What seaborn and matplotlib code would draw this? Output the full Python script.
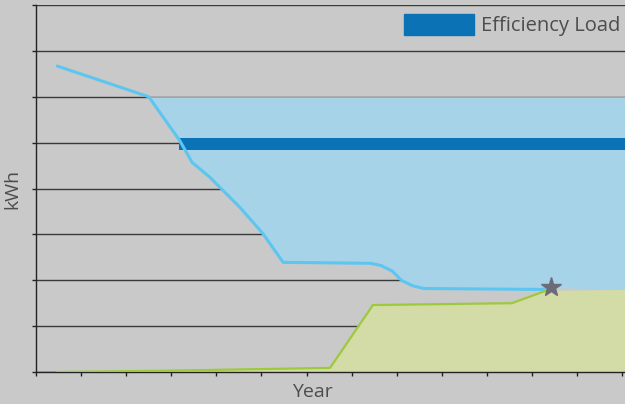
import numpy as np
import matplotlib
matplotlib.use("Agg")
import matplotlib.pyplot as plt
import matplotlib.patches as mpatches
import seaborn as sns

# -------------------
# Dados
# -------------------
anos_carga = [0.47, 2.5, 3.19, 3.46, 3.86, 4.52, 5.03, 5.48, 7.41, 7.65, 7.9, 8.1, 8.35, 8.6, 11.2, 11.4]
carga = [6.67, 6.0, 5.04, 4.57, 4.24, 3.59, 3.02, 2.39, 2.37, 2.32, 2.2, 2.0, 1.88, 1.82, 1.8, 1.84]

anos_geracao = [0.47, 3.0, 6.52, 7.47, 10.55, 11.33, 13.1]
geracao = [0.0, 0.03, 0.09, 1.46, 1.5, 1.78, 1.8]

topo_carga = 6.0
faixa_eficiencia = (4.83, 5.09)
inicio_faixa = 3.17
estrela = (11.42, 1.85)

# -------------------
# Cores
# -------------------
cor_fundo = "#c9c9c9"
cor_azul_claro = "#a6d3e8"
cor_ciano = "#5cc6f0"
cor_azul = "#0b72b6"
cor_verde_claro = "#d3dba6"
cor_verde = "#9dc93c"
cor_texto = "#4d4d4d"

sns.set_theme(style="white")
plt.rcParams["font.family"] = ["Open Sans", "DejaVu Sans"]

fig = plt.figure(figsize=(6.25, 4.04), dpi=100, facecolor=cor_fundo)
ax = fig.add_axes([36 / 625, 32 / 404, 589 / 625, 367 / 404])
ax.set_facecolor(cor_fundo)

x_max = 13.06
ax.set_xlim(0, x_max)
ax.set_ylim(0, 8.0)

# -------------------
# Áreas
# -------------------
fill_x = anos_carga[1:] + [x_max]
fill_baixo = carga[1:] + [geracao[-1]]
ax.fill_between(fill_x, topo_carga, fill_baixo, color=cor_azul_claro, lw=0, zorder=2)

ax.fill_between(anos_geracao, 0, geracao, color=cor_verde_claro, lw=0, zorder=2)

ax.fill_between([inicio_faixa, x_max], faixa_eficiencia[0], faixa_eficiencia[1],
                color=cor_azul, lw=0, zorder=3)

# -------------------
# Linhas
# -------------------
sns.lineplot(x=anos_carga, y=carga, color=cor_ciano, lw=2.2, ax=ax, zorder=4, sort=False)
sns.lineplot(x=anos_geracao[:-1], y=geracao[:-1], color=cor_verde, lw=1.6, ax=ax, zorder=4, sort=False)

ax.plot(*estrela, marker="*", ms=15, color="#6c6c78", zorder=5)

# -------------------
# Eixos e grade
# -------------------
ax.set_yticks(range(0, 9))
ax.set_xticks(range(0, 14))
ax.set_yticklabels([])
ax.set_xticklabels([])
ax.yaxis.grid(True, color="#3a3a3a", lw=1.0)
ax.set_axisbelow(True)
ax.tick_params(axis="both", direction="out", length=3, width=1, color="#222222", left=True, bottom=True)

for lado in ["top", "right"]:
    ax.spines[lado].set_visible(False)
for lado in ["left", "bottom"]:
    ax.spines[lado].set_color("#222222")
    ax.spines[lado].set_linewidth(1.0)

ax.set_ylabel("kWh", fontsize=14, color=cor_texto, labelpad=4)
ax.set_xlabel("Year", fontsize=14, color=cor_texto, labelpad=1)
ax.xaxis.set_label_coords(0.47, -0.03, transform=ax.transAxes)
ax.xaxis.label.set_va("top")

handle = mpatches.Patch(color=cor_azul, label="Efficiency Load")
fig.legend(handles=[handle], loc="center right", bbox_to_anchor=(1.022, 0.938),
           frameon=False, fontsize=14.5, handlelength=3.5, handleheight=1.2,
           handletextpad=0.35, labelcolor=cor_texto)

fig.savefig("out.png", dpi=100, facecolor=cor_fundo)
